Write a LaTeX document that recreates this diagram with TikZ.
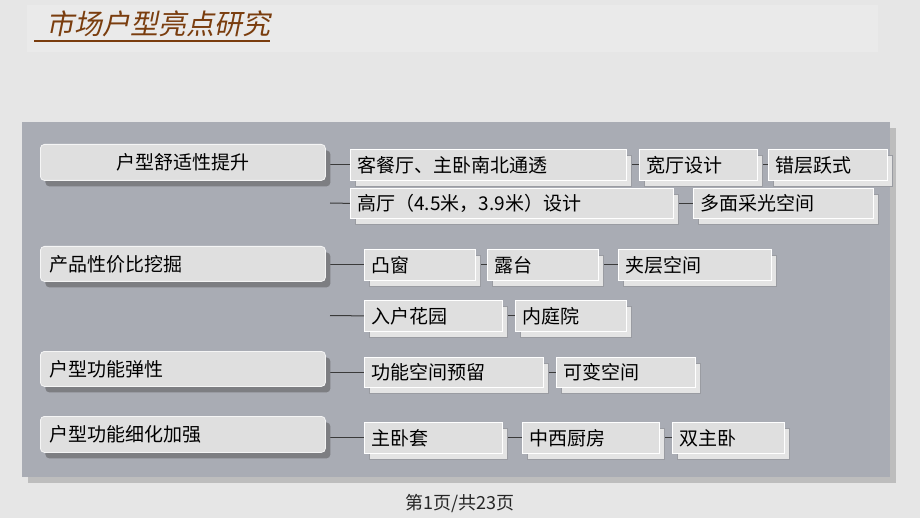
\documentclass[tikz,border=0pt]{standalone}
\usepackage{fontspec}
\setmainfont{Noto Sans CJK SC}
\newfontfamily\titlefont[FakeSlant=0.2]{Noto Sans CJK SC}
\usetikzlibrary{shadows}
\definecolor{pagebg}{HTML}{E6E6E6}
\definecolor{titleband}{HTML}{EAEAEA}
\definecolor{titlec}{HTML}{7A3D0E}
\definecolor{panelc}{HTML}{A9ACB4}
\definecolor{panelshadow}{HTML}{BDBDBD}
\definecolor{boxfill}{HTML}{DFDFDF}
\definecolor{catshadow}{HTML}{7D7E82}
\definecolor{itemshadow}{HTML}{E4E4E4}
\definecolor{shadowline}{HTML}{9A9CA2}
\definecolor{connc}{HTML}{3A3A3A}
\pgfdeclarelayer{bg}\pgfdeclarelayer{conn}
\pgfsetlayers{bg,conn,main}
\tikzset{
  catbox/.style={draw=white!92!gray, line width=0.8pt, fill=boxfill, rounded corners=4pt,
    anchor=north west, inner xsep=9pt, inner ysep=0pt, font=\fontsize{19}{22}\selectfont,
    general shadow={shadow xshift=5pt, shadow yshift=-6pt, fill=catshadow, draw=none}},
  itembox/.style={draw=white, line width=0.8pt, fill=boxfill,
    anchor=north west, inner xsep=7pt, inner ysep=0pt, align=left, font=\fontsize{19}{22}\selectfont,
    general shadow={shadow xshift=5pt, shadow yshift=-6pt, fill=itemshadow, draw=shadowline, line width=0.8pt}},
  connline/.style={draw=connc, line width=1pt}
}
\newcommand\catnode[7]{%
  \pgfmathsetmacro\bw{#4-#2-18}\pgfmathsetmacro\bh{#5-#3}%
  \node[catbox, text width=\bw pt, minimum height=\bh pt, align=#7] (#1) at (#2,#3) {#6};}
\newcommand\itemnode[6]{%
  \pgfmathsetmacro\bw{#4-#2-14}\pgfmathsetmacro\bh{#5-#3}%
  \node[itembox, text width=\bw pt, minimum height=\bh pt] (#1) at (#2,#3) {#6};}
\begin{document}
\begin{tikzpicture}[x=1pt,y=-1pt]
\useasboundingbox (0,0) rectangle (920,518);
\begin{pgfonlayer}{bg}
  \fill[pagebg] (0,0) rectangle (920,518);
  \fill[titleband] (27,5) rectangle (878,52);
  \fill[panelshadow] (28,128) rectangle (896,483);
  \fill[panelc] (22,122) rectangle (890,477);
\end{pgfonlayer}
% title
\node[anchor=base west, inner sep=0pt, text=titlec, font=\titlefont\fontsize{28}{32}\selectfont] (title) at (46,35) {市场户型亮点研究};
\coordinate (ul) at (34,41);
\draw[titlec, line width=1.4pt] (ul) -- (ul -| title.east);
% categories
\catnode{c1}{40}{144}{325}{180}{户型舒适性提升}{center}
\catnode{c2}{40}{246}{325}{281}{产品性价比挖掘}{left}
\catnode{c3}{40}{351}{325}{386}{户型功能弹性}{left}
\catnode{c4}{40}{416}{325}{452}{户型功能细化加强}{left}
% items
\itemnode{a1}{350}{149}{626}{180}{客餐厅、主卧南北通透}
\itemnode{a2}{639}{149}{757}{180}{宽厅设计}
\itemnode{a3}{768}{149}{887}{180}{错层跃式}
\itemnode{b1}{350}{188}{673}{218}{高厅（4.5米，3.9米）设计}
\itemnode{b2}{693}{188}{873}{218}{多面采光空间}
\itemnode{d1}{364}{249}{475}{280}{凸窗}
\itemnode{d2}{487}{249}{598}{280}{露台}
\itemnode{d3}{618}{249}{771}{280}{夹层空间}
\itemnode{e1}{364}{300}{502}{331}{入户花园}
\itemnode{e2}{515}{300}{626}{331}{内庭院}
\itemnode{f1}{364}{357}{543}{387}{功能空间预留}
\itemnode{f2}{556}{357}{695}{387}{可变空间}
\itemnode{g1}{364}{422}{502}{453}{主卧套}
\itemnode{g2}{522}{422}{659}{453}{中西厨房}
\itemnode{g3}{672}{422}{784}{453}{双主卧}
\coordinate (r2) at (330,203);
\coordinate (r4) at (330,315.5);
\begin{pgfonlayer}{conn}
  \draw[connline] (a1.west -| c1.east) -- (a1.west);
  \draw[connline] (a1.east) -- (a2.west);
  \draw[connline] (a2.east) -- (a3.west);
  \draw[connline] (r2) -- (b1.west);
  \draw[connline] (b1.east) -- (b2.west);
  \draw[connline] (d1.west -| c2.east) -- (d1.west);
  \draw[connline] (d1.east) -- (d2.west);
  \draw[connline] (d2.east) -- (d3.west);
  \draw[connline] (r4) -- (e1.west);
  \draw[connline] (e1.east) -- (e2.west);
  \draw[connline] (f1.west -| c3.east) -- (f1.west);
  \draw[connline] (f1.east) -- (f2.west);
  \draw[connline] (g1.west -| c4.east) -- (g1.west);
  \draw[connline] (g1.east) -- (g2.west);
  \draw[connline] (g2.east) -- (g3.west);
\end{pgfonlayer}
% footer
\node[inner sep=0pt, font=\fontsize{18}{20}\selectfont, text=black!85] (footer) at (460,504) {第1页/共23页};
\end{tikzpicture}
\end{document}
